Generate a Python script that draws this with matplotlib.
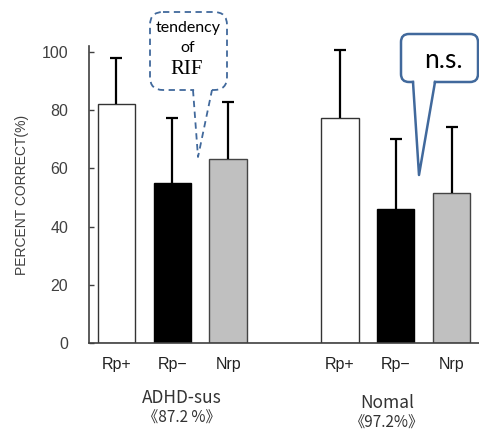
import matplotlib
matplotlib.use('Agg')
import matplotlib.pyplot as plt
import numpy as np
from matplotlib.patches import FancyBboxPatch, Polygon
from matplotlib.transforms import Affine2D

W, H = 479, 432

# data
conditions = ['Rp+', 'Rp\u2212', 'Nrp']
groups = ['ADHD-sus', 'Nomal']
group_notes = ['\u300a87.2 %\u300b', '\u300a97.2%\u300b']
adhd_mean = [82.0, 54.9, 63.2]
adhd_err = [15.8, 22.3, 19.7]
nomal_mean = [77.4, 45.9, 51.4]
nomal_err = [23.3, 24.3, 22.7]

BAR_FC = ['white', 'black', '#C0C0C0']
BAR_EC = ['#333333', 'black', '#444444']
AX_C = '#404040'
CALLOUT_C = '#41699C'

fig = plt.figure(figsize=(W / 100, H / 100), dpi=100)
ax = fig.add_axes([89 / W, 89 / H, 1 - 89 / W, 297 / H])

x_adhd = np.arange(3)
x_nomal = np.arange(3) + 4
for xs, means, errs in [(x_adhd, adhd_mean, adhd_err), (x_nomal, nomal_mean, nomal_err)]:
    ax.bar(xs, means, width=0.67, color=BAR_FC, edgecolor=BAR_EC, linewidth=1.0, zorder=2)
    eb = ax.errorbar(xs, means, yerr=[np.zeros(3), errs], fmt='none', ecolor='black',
                     elinewidth=1.6, capsize=4.5, capthick=1.6, zorder=3, clip_on=False)
    # only the upper cap is drawn in the original
    for cap in eb[1]:
        if np.allclose(cap.get_ydata(), means):
            cap.set_visible(False)

ax.set_xlim(-0.49, 6.49)
ax.set_ylim(0, 102)
ax.set_yticks(range(0, 101, 20))
ax.set_xticks(list(x_adhd) + list(x_nomal))
ax.set_xticklabels(conditions * 2)
ax.tick_params(axis='y', direction='in', length=3.5, width=1.0, color=AX_C,
               labelsize=11.5, labelcolor=AX_C, pad=15)
ax.tick_params(axis='x', length=0, labelsize=11.5, labelcolor='#222222', pad=10)
for lbl in ax.get_xticklabels() + ax.get_yticklabels():
    lbl.set_family('Liberation Sans')
for s in ['top', 'right']:
    ax.spines[s].set_visible(False)
for s in ['left', 'bottom']:
    ax.spines[s].set_color(AX_C)
    ax.spines[s].set_linewidth(1.2)
ax.set_ylabel('PERCENT CORRECT(%)', fontsize=10, color=AX_C,
              family='Liberation Sans', labelpad=9)

# group labels under the ticks
for gx, gy, name, note in [(1.17, -18.9, groups[0], group_notes[0]),
                           (4.84, -20.6, groups[1], group_notes[1])]:
    ax.text(gx, gy, name, ha='center', va='center', fontsize=12.5, color='#333333',
            family=['Noto Sans CJK JP', 'DejaVu Sans'], clip_on=False)
    ax.text(gx, gy - 7.0, note, ha='center', va='center', fontsize=11, color='#333333',
            family=['Noto Sans CJK JP', 'DejaVu Sans'], clip_on=False)

# callouts drawn in pixel space (y down from the top)
px = Affine2D().scale(1 / W, -1 / H).translate(0, 1) + fig.transFigure


def callout(x0, y0, x1, y1, rad, base_l, base_r, tip, ls, lw):
    fig.patches.append(FancyBboxPatch(
        (x0, y0), x1 - x0, y1 - y0, boxstyle=f'round,pad=0,rounding_size={rad}',
        facecolor='white', edgecolor=CALLOUT_C, linewidth=lw, linestyle=ls,
        transform=px, zorder=5))
    fig.patches.append(Polygon([(base_l + 1, y1 - 2), (base_r - 1, y1 - 2), tip],
                               closed=True, facecolor='white', edgecolor='none',
                               transform=px, zorder=6))
    fig.lines.append(plt.Line2D([base_l, tip[0], base_r], [y1, tip[1], y1],
                                color=CALLOUT_C, linewidth=lw, linestyle=ls,
                                transform=px, zorder=7))


callout(150, 12, 227, 90, 13, 193, 212, (198, 157), (0, (3.5, 2.5)), 1.3)
fig.text(188 / W, 1 - 28 / H, 'tendency', ha='center', va='center', fontsize=11.5,
         family='Lato', color='black', zorder=8)
fig.text(188 / W, 1 - 48 / H, 'of', ha='center', va='center', fontsize=11.5,
         family='Lato', color='black', zorder=8)
fig.text(187 / W, 1 - 70 / H, 'RIF', ha='center', va='center', fontsize=15,
         family='Liberation Serif', color='black', zorder=8)

callout(401, 34, 478, 82, 8, 413, 435, (419, 175), 'solid', 1.8)
fig.text(443 / W, 1 - 60 / H, 'n.s.', ha='center', va='center', fontsize=19,
         family='Lato', color='black', zorder=8)

fig.savefig('out.png', dpi=100, facecolor='white')
